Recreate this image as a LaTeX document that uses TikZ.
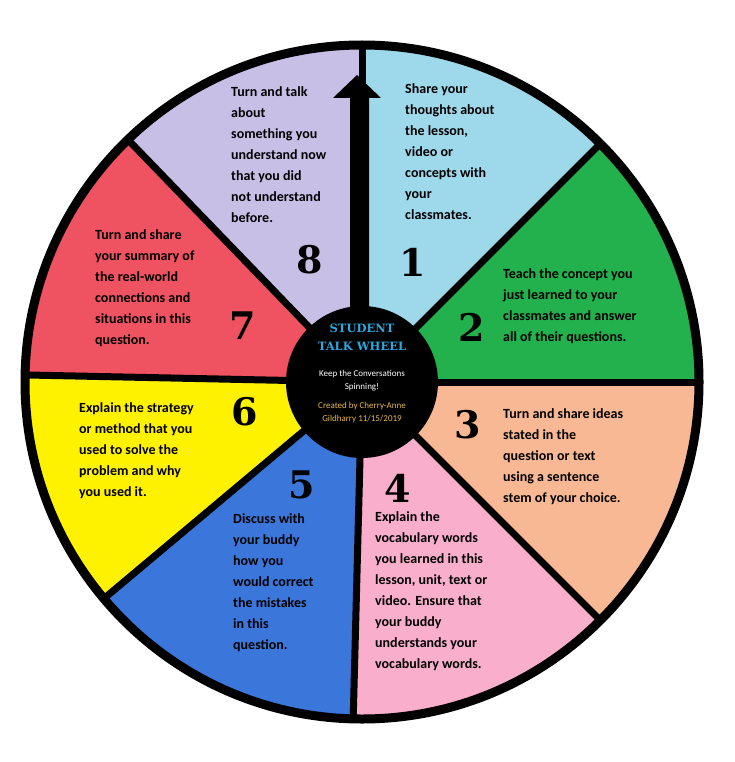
\documentclass[tikz,border=0pt]{standalone}
\usepackage{fontspec}
\setmainfont{Carlito}
\newfontfamily\numfont{DejaVu Serif}
\definecolor{cyanT}{HTML}{2BA8E0}
\definecolor{goldT}{HTML}{E6B84A}
\begin{document}
\begin{tikzpicture}[x=1pt,y=-1pt,
  txt/.style={anchor=north west,align=left,font=\bfseries\fontsize{14}{21}\selectfont,inner sep=0pt},
  num/.style={font=\numfont\bfseries\fontsize{38}{38}\selectfont,inner sep=0pt}]
\useasboundingbox[fill=white] (0,0) rectangle (735,762);
\coordinate (c) at (362,382);
\def\R{337}
\foreach \a/\b/\col in {45/90/9DD9EA,0/45/22B14C,-45/0/F9B894,-91.5/-45/F9AECB,-140/-91.5/3B76DB,-181.2/-140/FFF200,134/178.8/EF5361,90/134/C8BFE7}{
  \definecolor{tmp}{HTML}{\col}
  \fill[tmp] (c) -- ++(\a:\R pt) arc[start angle=\a,end angle=\b,radius=\R pt] -- cycle;
}
\foreach \a in {90,45,0,-45,-91.5,-140,178.8,134}
  \draw[line width=7pt] (c) -- ++(\a:\R pt);
\draw[line width=9pt] (c) circle[radius=\R pt];
\fill (c) circle[radius=76pt];
% arrow
\fill (350,382) -- (350,98) -- (333,98) -- (357,75) -- (381,98) -- (369,98) -- (369,382) -- cycle;
\node (t) at (362,328) {\textcolor{cyanT}{\numfont\bfseries\fontsize{11.5}{14}\selectfont STUDENT}};
\node (t2) at (362,346) {\textcolor{cyanT}{\numfont\bfseries\fontsize{11.5}{14}\selectfont TALK WHEEL}};
\node[align=center,text=white,font=\fontsize{9}{13}\selectfont] (k) at (362,381) {Keep the Conversations\\Spinning!};
\node[align=center,text=goldT,font=\fontsize{9}{13}\selectfont] (cr) at (362,413) {Created by Cherry-Anne\\Gildharry 11/15/2019};
% texts
\node[txt] (s1) at (405,83) {Share your\\thoughts about\\the lesson,\\video or\\concepts with\\your\\classmates.};
\node[txt] (s2) at (503,268) {Teach the concept you\\just learned to your\\classmates and answer\\all of their questions.};
\node[txt] (s3) at (503,408) {Turn and share ideas\\stated in the\\question or text\\using a sentence\\stem of your choice.};
\node[txt] (s4) at (375,511) {Explain the\\vocabulary words\\you learned in this\\lesson, unit, text or\\video. Ensure that\\your buddy\\understands your\\vocabulary words.};
\node[txt] (s5) at (233,513) {Discuss with\\your buddy\\how you\\would correct\\the mistakes\\in this\\question.};
\node[txt] (s6) at (79,402) {Explain the strategy\\or method that you\\used to solve the\\problem and why\\you used it.};
\node[txt] (s7) at (95,229) {Turn and share\\your summary of\\the real-world\\connections and\\situations in this\\question.};
\node[txt] (s8) at (231,86) {Turn and talk\\about\\something you\\understand now\\that you did\\not understand\\before.};
\node[num] (n1) at (413,262) {1};
\node[num] (n2) at (472,327) {2};
\node[num] (n3) at (468,425) {3};
\node[num] (n4) at (398,488) {4};
\node[num] (n5) at (302,485) {5};
\node[num] (n6) at (245,412) {6};
\node[num] (n7) at (243,326) {7};
\node[num] (n8) at (310,260) {8};
\end{tikzpicture}
\end{document}
